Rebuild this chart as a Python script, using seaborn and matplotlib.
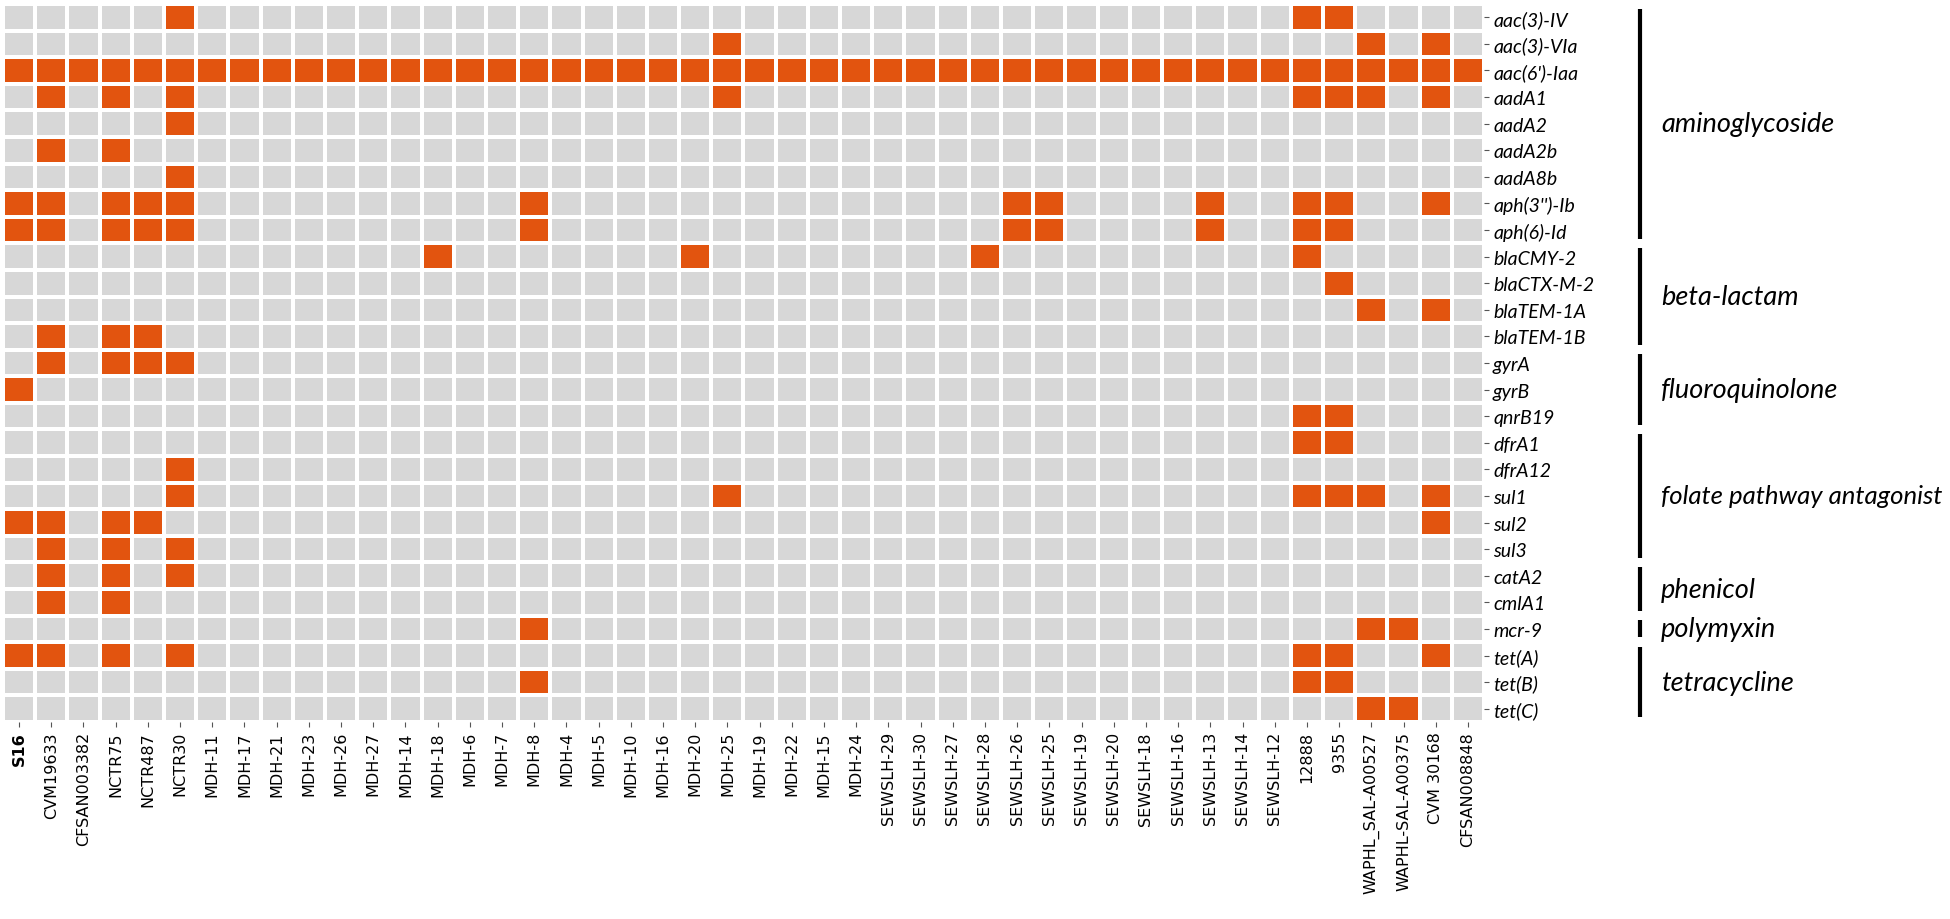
import matplotlib
matplotlib.use('agg')
import seaborn as sns
import matplotlib.pyplot as plt
import matplotlib.transforms as mtransforms
from matplotlib.colors import ListedColormap
import pandas as pd

samples = ["S16", "CVM19633", "CFSAN003382", "NCTR75", "NCTR487", "NCTR30",
           "MDH-11", "MDH-17", "MDH-21", "MDH-23", "MDH-26", "MDH-27", "MDH-14",
           "MDH-18", "MDH-6", "MDH-7", "MDH-8", "MDH-4", "MDH-5", "MDH-10",
           "MDH-16", "MDH-20", "MDH-25", "MDH-19", "MDH-22", "MDH-15", "MDH-24",
           "SEWSLH-29", "SEWSLH-30", "SEWSLH-27", "SEWSLH-28", "SEWSLH-26",
           "SEWSLH-25", "SEWSLH-19", "SEWSLH-20", "SEWSLH-18", "SEWSLH-16",
           "SEWSLH-13", "SEWSLH-14", "SEWSLH-12", "12888", "9355",
           "WAPHL_SAL-A00527", "WAPHL-SAL-A00375", "CVM 30168", "CFSAN008848"]

genes = ["aac(3)-IV", "aac(3)-VIa", "aac(6')-Iaa", "aadA1", "aadA2", "aadA2b",
         "aadA8b", "aph(3'')-Ib", "aph(6)-Id", "blaCMY-2", "blaCTX-M-2",
         "blaTEM-1A", "blaTEM-1B", "gyrA", "gyrB", "qnrB19", "dfrA1", "dfrA12",
         "sul1", "sul2", "sul3", "catA2", "cmlA1", "mcr-9", "tet(A)", "tet(B)",
         "tet(C)"]

# samples carrying each gene (same order as genes)
hits = [
    ["NCTR30", "12888", "9355"],
    ["MDH-25", "WAPHL_SAL-A00527", "CVM 30168"],
    samples,
    ["CVM19633", "NCTR75", "NCTR30", "MDH-25", "12888", "9355", "WAPHL_SAL-A00527", "CVM 30168"],
    ["NCTR30"],
    ["CVM19633", "NCTR75"],
    ["NCTR30"],
    ["S16", "CVM19633", "NCTR75", "NCTR487", "NCTR30", "MDH-8", "SEWSLH-26", "SEWSLH-25",
     "SEWSLH-13", "12888", "9355", "CVM 30168"],
    ["S16", "CVM19633", "NCTR75", "NCTR487", "NCTR30", "MDH-8", "SEWSLH-26", "SEWSLH-25",
     "SEWSLH-13", "12888", "9355"],
    ["MDH-18", "MDH-20", "SEWSLH-28", "12888"],
    ["9355"],
    ["WAPHL_SAL-A00527", "CVM 30168"],
    ["CVM19633", "NCTR75", "NCTR487"],
    ["CVM19633", "NCTR75", "NCTR487", "NCTR30"],
    ["S16"],
    ["12888", "9355"],
    ["12888", "9355"],
    ["NCTR30"],
    ["NCTR30", "MDH-25", "12888", "9355", "WAPHL_SAL-A00527", "CVM 30168"],
    ["S16", "CVM19633", "NCTR75", "NCTR487", "CVM 30168"],
    ["CVM19633", "NCTR75", "NCTR30"],
    ["CVM19633", "NCTR75", "NCTR30"],
    ["CVM19633", "NCTR75"],
    ["MDH-8", "WAPHL_SAL-A00527", "WAPHL-SAL-A00375"],
    ["S16", "CVM19633", "NCTR75", "NCTR30", "12888", "9355", "CVM 30168"],
    ["MDH-8", "12888", "9355"],
    ["WAPHL_SAL-A00527", "WAPHL-SAL-A00375"],
]

classes = ["aminoglycoside", "beta-lactam", "fluoroquinolone",
           "folate pathway antagonist", "phenicol", "polymyxin", "tetracycline"]
class_sizes = [9, 4, 3, 5, 2, 1, 3]

matrix = pd.DataFrame(0, index=genes, columns=samples)
for gene, found in zip(genes, hits):
    matrix.loc[gene, found] = 1

fig = plt.figure(figsize=(19.5, 9.2), dpi=100)
ax = fig.add_axes([3 / 1950, 1 - 723 / 920, 1481 / 1950, 718 / 920])

sns.heatmap(matrix, cmap=ListedColormap(['#d7d7d7', '#e2540f']), vmin=0, vmax=1,
            linewidths=1.5, linecolor='white', cbar=False, ax=ax)

ax.yaxis.tick_right()
ax.set_yticks([i + 0.5 for i in range(len(genes))])
ax.set_yticklabels(genes, rotation=0, fontstyle='italic', family='Lato', fontsize=14)
ax.set_xticks([i + 0.5 for i in range(len(samples))])
ax.set_xticklabels(samples, rotation=90, fontsize=11.5, family='DejaVu Sans')
ax.get_xticklabels()[0].set_fontweight('bold')
ax.tick_params(axis='both', length=3.5, width=0.8, color='#555555', pad=3)
ax.set_xlabel('')
ax.set_ylabel('')

# drug class brackets on the right
trans = mtransforms.blended_transform_factory(ax.transAxes, ax.transData)
renderer = fig.canvas.get_renderer()
start = 0
for name, size in zip(classes, class_sizes):
    y0 = start + 0.18
    y1 = start + size - 0.18
    ax.plot([1.1053, 1.1053], [y0, y1], color='black', lw=3, transform=trans,
            clip_on=False, solid_capstyle='butt')
    t = ax.text(1.1195, start + size / 2, name, transform=trans, va='center', ha='left',
                fontsize=19.5, fontstyle='italic', family='Lato')
    # shrink a long label so it stays inside the figure
    while t.get_window_extent(renderer).x1 > 1944:
        t.set_fontsize(t.get_fontsize() - 0.25)
    start += size

fig.savefig('out.png', dpi=100)
